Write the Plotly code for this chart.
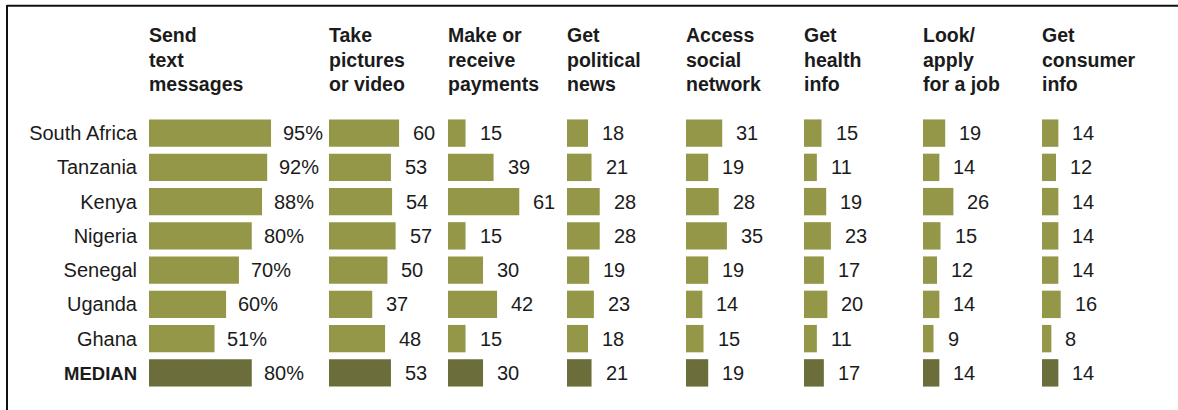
import plotly.graph_objects as go

W, H = 1178, 410

# Countries (rows, top to bottom)
countries = ["South Africa", "Tanzania", "Kenya", "Nigeria", "Senegal",
             "Uganda", "Ghana", "MEDIAN"]

# Share of cell phone owners doing each activity (%)
send_text = [95, 92, 88, 80, 70, 60, 51, 80]
take_pictures = [60, 53, 54, 57, 50, 37, 48, 53]
payments = [15, 39, 61, 15, 30, 42, 15, 30]
political_news = [18, 21, 28, 28, 19, 23, 18, 21]
social_network = [31, 19, 28, 35, 19, 14, 15, 19]
health_info = [15, 11, 19, 23, 17, 20, 11, 17]
job_search = [19, 14, 26, 15, 12, 14, 9, 14]
consumer_info = [14, 12, 14, 14, 14, 16, 8, 14]

# Column headings, one list entry per printed line
headers = [
    ["Send", "text", "messages"],
    ["Take", "pictures", "or video"],
    ["Make or", "receive", "payments"],
    ["Get", "political", "news"],
    ["Access", "social", "network"],
    ["Get", "health", "info"],
    ["Look/", "apply", "for a job"],
    ["Get", "consumer", "info"],
]

series = [send_text, take_pictures, payments, political_news,
          social_network, health_info, job_search, consumer_info]

# Layout constants (pixels)
col_left = [149, 329, 448, 567, 686, 804, 923, 1042]
col_width = [167, 111, 111, 111, 111, 111, 111, 111]
col_range = [130, 95, 95, 95, 95, 95, 95, 95]
label_gap = [12, 14, 14, 14, 14, 14, 14, 14]
plot_top, plot_bottom = 116, 390

LIGHT = "#939747"
DARK = "#6b6e3a"
TEXT = "#1b1b1b"
BODY_FONT = "Liberation Sans, Arial, sans-serif"
HEAD_FONT = "Liberation Sans, Arial, sans-serif"


def px_x(x):
    return x / W


def px_y(y):
    return 1 - y / H


fig = go.Figure()
annotations = []
colors = [DARK if c == "MEDIAN" else LIGHT for c in countries]

for i, vals in enumerate(series):
    xname = "x" if i == 0 else f"x{i + 1}"
    fig.add_trace(go.Bar(
        x=vals, y=countries, orientation="h",
        xaxis=xname, yaxis="y",
        marker=dict(color=colors, line=dict(width=0)),
        width=0.8, hoverinfo="x+y", showlegend=False,
    ))
    for c, v in zip(countries, vals):
        txt = f"{v}%" if i == 0 else f"{v}"
        annotations.append(dict(
            x=v, y=c, xref=xname, yref="y", text=txt, showarrow=False,
            xanchor="left", yanchor="middle", xshift=label_gap[i] - 2,
            font=dict(family=BODY_FONT, size=20, color=TEXT),
        ))
    for j, line in enumerate(headers[i]):
        annotations.append(dict(
            x=px_x(col_left[i]), y=px_y(35.5 + 24.5 * j),
            xref="paper", yref="paper", text=f"<b>{line}</b>",
            showarrow=False, xanchor="left", yanchor="middle", xshift=-2,
            font=dict(family=HEAD_FONT, size=19.5, color=TEXT),
        ))

layout_axes = {}
for i in range(8):
    key = "xaxis" if i == 0 else f"xaxis{i + 1}"
    layout_axes[key] = dict(
        domain=[px_x(col_left[i]), px_x(col_left[i] + col_width[i])],
        range=[0, col_range[i]], anchor="y", visible=False, fixedrange=True,
    )

tick_text = ["<span style=\"font-size:18.5px\"><b>MEDIAN</b></span>"
             if c == "MEDIAN" else c for c in countries]

fig.update_layout(
    width=W, height=H,
    margin=dict(l=0, r=0, t=0, b=0),
    paper_bgcolor="white", plot_bgcolor="white",
    yaxis=dict(
        domain=[px_y(plot_bottom), px_y(plot_top)],
        type="category", categoryorder="array", categoryarray=countries,
        range=[len(countries) - 0.5, -0.5],
        tickvals=countries, ticktext=tick_text,
        showgrid=False, zeroline=False, showline=False, ticks="",
        ticklabelstandoff=11,
        tickfont=dict(family=BODY_FONT, size=20, color=TEXT),
        anchor="x", fixedrange=True,
    ),
    annotations=annotations,
    shapes=[
        dict(type="line", xref="paper", yref="paper",
             x0=px_x(7), x1=1, y0=px_y(5.8), y1=px_y(5.8),
             line=dict(color="#111111", width=2)),
        dict(type="line", xref="paper", yref="paper",
             x0=px_x(7), x1=px_x(7), y0=px_y(5), y1=0,
             line=dict(color="#111111", width=2)),
    ],
    bargap=0.2,
    **layout_axes,
)

fig.write_html("out.html")
